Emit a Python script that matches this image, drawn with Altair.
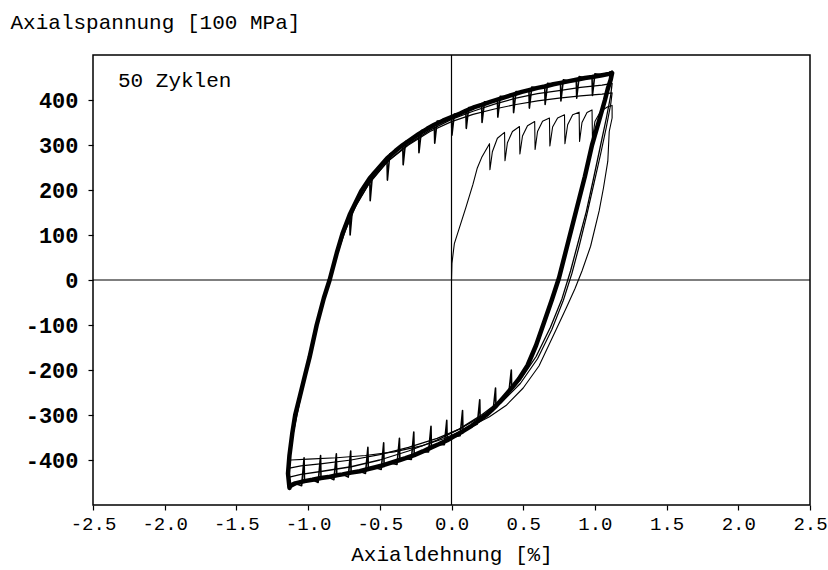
import altair as alt
import pandas as pd

# ---- data (strain %, stress) ----
# stabilised cycle (thick band): rising branch
band_up = [
    (-1.13, -462), (-1.14, -430), (-1.13, -390), (-1.11, -340), (-1.09, -300), (-1.06, -262),
    (-1.02, -210), (-0.99, -172), (-0.94, -100), (-0.89, -40), (-0.85, 0), (-0.80, 60),
    (-0.76, 103), (-0.71, 145), (-0.63, 197), (-0.57, 226), (-0.50, 252), (-0.45, 270),
    (-0.39, 287), (-0.34, 300), (-0.28, 313), (-0.23, 324), (-0.17, 336), (-0.12, 345),
    (-0.06, 354), (0.0, 362), (0.06, 370), (0.10, 376), (0.16, 384), (0.21, 389), (0.27, 396),
    (0.32, 401), (0.38, 407), (0.43, 412), (0.49, 418), (0.54, 422), (0.60, 427), (0.65, 430),
    (0.71, 435), (0.76, 438), (0.82, 442), (0.87, 445), (0.93, 449), (0.98, 451), (1.05, 455),
    (1.10, 458), (1.12, 460),
]
# stabilised cycle (thick band): falling branch
band_down = [
    (1.12, 460), (1.11, 445), (1.09, 425), (1.07, 400), (1.03, 355), (0.98, 300), (0.93, 230),
    (0.87, 155), (0.81, 80), (0.75, 5), (0.70, -44), (0.65, -90), (0.59, -145), (0.53, -190),
    (0.47, -220), (0.42, -240), (0.36, -262), (0.31, -280), (0.25, -298), (0.20, -310),
    (0.14, -324), (0.08, -336), (0.02, -347), (-0.03, -356), (-0.09, -365), (-0.14, -372),
    (-0.20, -381), (-0.26, -389), (-0.32, -396), (-0.36, -400), (-0.42, -406), (-0.47, -411),
    (-0.53, -416), (-0.58, -420), (-0.64, -425), (-0.70, -428), (-0.76, -432), (-0.80, -434),
    (-0.86, -438), (-0.91, -440), (-0.97, -444), (-1.025, -447), (-1.09, -452), (-1.13, -458),
]
# stabilised cycle with relaxation spikes: rising branch
main_up = [
    (-1.13, -462), (-1.14, -430), (-1.13, -390), (-1.11, -340), (-1.09, -300), (-1.06, -262),
    (-1.02, -210), (-0.99, -172), (-0.94, -100), (-0.89, -40), (-0.85, 0), (-0.80, 60), (-0.76, 103),
    (-0.71, 145), (-0.707, 100), (-0.69, 160), (-0.63, 197),
    (-0.57, 226), (-0.567, 176), (-0.55, 238), (-0.50, 252),
    (-0.45, 270), (-0.447, 222), (-0.43, 280), (-0.39, 287),
    (-0.34, 300), (-0.337, 256), (-0.32, 308), (-0.28, 313),
    (-0.23, 324), (-0.227, 283), (-0.21, 332), (-0.17, 336),
    (-0.12, 345), (-0.117, 304), (-0.10, 353), (-0.06, 354),
    (0.00, 362), (0.003, 322), (0.02, 369), (0.06, 370),
    (0.10, 376), (0.103, 337), (0.12, 383), (0.16, 384),
    (0.21, 389), (0.213, 350), (0.23, 396), (0.27, 396),
    (0.32, 401), (0.323, 362), (0.34, 408), (0.38, 407),
    (0.43, 412), (0.433, 372), (0.45, 419), (0.49, 418),
    (0.54, 422), (0.543, 382), (0.56, 429), (0.60, 427),
    (0.65, 430), (0.653, 390), (0.67, 437), (0.71, 435),
    (0.76, 438), (0.763, 398), (0.78, 445), (0.82, 442),
    (0.87, 445), (0.873, 404), (0.89, 452), (0.93, 449),
    (0.98, 451), (0.983, 410), (1.00, 458), (1.05, 456),
    (1.10, 461), (1.12, 464),
]
# stabilised cycle with relaxation spikes: falling branch
main_down = [
    (1.12, 464), (1.11, 445), (1.09, 425), (1.07, 400), (1.03, 355), (0.98, 300), (0.93, 230),
    (0.87, 155), (0.81, 80), (0.75, 5), (0.70, -44), (0.65, -90), (0.59, -145), (0.53, -190),
    (0.47, -220),
    (0.42, -240), (0.417, -200), (0.40, -250), (0.36, -262),
    (0.31, -280), (0.307, -240), (0.29, -290), (0.25, -298),
    (0.20, -310), (0.197, -266), (0.18, -320), (0.14, -326),
    (0.08, -336), (0.077, -290), (0.06, -346), (0.02, -348),
    (-0.03, -356), (-0.033, -312), (-0.05, -366), (-0.09, -366),
    (-0.14, -372), (-0.143, -325), (-0.16, -382), (-0.20, -382),
    (-0.26, -389), (-0.263, -338), (-0.28, -399), (-0.32, -397),
    (-0.36, -400), (-0.363, -352), (-0.38, -410), (-0.42, -407),
    (-0.47, -411), (-0.473, -362), (-0.49, -421), (-0.53, -417),
    (-0.58, -420), (-0.583, -372), (-0.60, -430), (-0.64, -425),
    (-0.70, -428), (-0.703, -380), (-0.72, -438), (-0.76, -432),
    (-0.80, -434), (-0.803, -386), (-0.82, -444), (-0.86, -438),
    (-0.91, -440), (-0.913, -390), (-0.93, -450), (-0.97, -444),
    (-1.025, -447), (-1.028, -395), (-1.045, -457), (-1.09, -452),
    (-1.13, -464),
]
# first loading from zero with relaxation sawtooth
first_load = [
    (0.0, 0), (0.003, 37), (0.02, 81), (0.056, 117), (0.10, 161), (0.15, 213), (0.18, 249),
    (0.21, 272), (0.265, 303),
    (0.268, 245), (0.285, 285), (0.32, 315), (0.37, 328),
    (0.373, 265), (0.39, 305), (0.425, 330), (0.474, 341),
    (0.477, 280), (0.495, 320), (0.53, 343), (0.58, 352),
    (0.583, 290), (0.60, 330), (0.635, 353), (0.683, 360),
    (0.686, 298), (0.705, 340), (0.74, 360), (0.788, 367),
    (0.791, 303), (0.81, 345), (0.845, 367), (0.89, 373),
    (0.893, 308), (0.91, 350), (0.945, 372), (0.98, 378),
    (0.983, 312), (1.00, 352), (1.04, 375), (1.09, 385), (1.12, 388),
]
# first unloading (outer thin line)
first_unload = [
    (1.12, 388), (1.12, 360), (1.10, 330), (1.09, 264), (1.06, 205), (1.03, 154), (0.97, 75),
    (0.91, 20), (0.86, -20), (0.80, -62), (0.73, -110), (0.61, -191), (0.50, -240),
    (0.38, -279), (0.265, -304), (0.15, -323), (0.05, -338), (-0.05, -352), (-0.20, -368),
    (-0.40, -382), (-0.60, -390), (-0.80, -395), (-1.00, -398), (-1.12, -400), (-1.13, -405),
]
# intermediate cycles (lower stress amplitude)
cyc2_up = [
    (-1.13, -405), (-1.11, -350), (-1.07, -290), (-1.03, -225), (-0.98, -160), (-0.92, -80),
    (-0.86, -10), (-0.80, 55), (-0.74, 110), (-0.66, 170), (-0.56, 222), (-0.44, 265),
    (-0.30, 300), (-0.15, 330), (0.0, 352), (0.15, 368), (0.30, 380), (0.45, 390),
    (0.60, 398), (0.75, 404), (0.90, 409), (1.05, 413), (1.12, 416),
]
cyc2_down = [
    (1.12, 416), (1.11, 390), (1.08, 340), (1.04, 280), (0.99, 210), (0.94, 140), (0.89, 75),
    (0.84, 15), (0.78, -45), (0.70, -110), (0.60, -175), (0.48, -230), (0.35, -272),
    (0.20, -305), (0.05, -332), (-0.10, -352), (-0.30, -372), (-0.50, -388), (-0.70, -400),
    (-0.90, -408), (-1.05, -413), (-1.13, -418),
]
cyc3_up = [
    (-1.13, -418), (-1.13, -380), (-1.10, -320), (-1.06, -262), (-1.01, -195), (-0.95, -112),
    (-0.89, -38), (-0.83, 28), (-0.77, 92), (-0.69, 152), (-0.58, 212), (-0.45, 262),
    (-0.30, 302), (-0.15, 333), (0.0, 357), (0.15, 375), (0.30, 391), (0.45, 404),
    (0.60, 414), (0.75, 421), (0.90, 428), (1.05, 433), (1.12, 437),
]
cyc3_down = [
    (1.12, 437), (1.11, 410), (1.08, 360), (1.04, 300), (0.99, 225), (0.94, 152), (0.88, 80),
    (0.83, 20), (0.77, -42), (0.69, -105), (0.59, -170), (0.48, -222), (0.35, -266),
    (0.20, -302), (0.05, -332), (-0.10, -356), (-0.30, -380), (-0.50, -400), (-0.70, -415),
    (-0.90, -425), (-1.05, -432), (-1.13, -438),
]

x_ticks = [-2.5, -2.0, -1.5, -1.0, -0.5, 0.0, 0.5, 1.0, 1.5, 2.0, 2.5]
y_ticks = [-400, -300, -200, -100, 0, 100, 200, 300, 400]

curves = [
    ("band", band_up + band_down, 4.5),
    ("first", first_load + first_unload, 1.1),
    ("c2", cyc2_up + cyc2_down, 1.2),
    ("c3", cyc3_up + cyc3_down, 1.3),
    ("main", main_up + main_down, 1.6),
]
rows = []
for name, pts, w in curves:
    for (x, y) in pts:
        rows.append({"series": name, "order": len(rows), "x": x, "y": y, "w": w})
df = pd.DataFrame(rows)

FONT = "Liberation Mono"
minus_fix = "datum.value < 0 ? '-' + format(abs(datum.value), '{f}') : format(datum.value, '{f}')"

x_enc = alt.X(
    "x:Q",
    scale=alt.Scale(domain=[-2.5, 2.5], nice=False, zero=False),
    axis=alt.Axis(
        values=x_ticks, grid=False, domain=False, tickSize=5, tickWidth=1.2, tickColor="black",
        labelFont=FONT, labelFontSize=19, labelColor="black", labelPadding=4,
        labelExpr=minus_fix.replace("{f}", ".1f"), labelOverlap=False, labelFlush=False,
        title="Axialdehnung [%]", titleFont=FONT, titleFontSize=21, titleFontWeight="normal",
        titleColor="black", titleY=49, titleBaseline="middle",
    ),
)
y_enc = alt.Y(
    "y:Q",
    scale=alt.Scale(domain=[-500, 500], nice=False),
    axis=alt.Axis(
        values=y_ticks, grid=False, domain=False, tickSize=5, tickWidth=1.2, tickColor="black",
        labelFont=FONT, labelFontSize=22, labelFontWeight="bold", labelColor="black",
        labelPadding=10, labelExpr=minus_fix.replace("{f}", "d"), labelOverlap=False,
        title="Axialspannung [100 MPa]", titleFont=FONT, titleFontSize=21,
        titleFontWeight="normal", titleColor="black", titleAngle=0, titleAlign="left",
        titleBaseline="middle", titleX=-83, titleY=-33,
    ),
)

lines = alt.Chart(df).mark_line(color="black", strokeJoin="round", strokeCap="round").encode(
    x=x_enc,
    y=y_enc,
    detail="series:N",
    order="order:Q",
    strokeWidth=alt.StrokeWidth("w:Q", scale=None),
)

vzero = alt.Chart(pd.DataFrame({"x": [0.0]})).mark_rule(color="black", strokeWidth=1.2).encode(x="x:Q")
hzero = alt.Chart(pd.DataFrame({"y": [0.0]})).mark_rule(color="black", strokeWidth=1.2).encode(y="y:Q")

label = alt.Chart(pd.DataFrame({"t": ["50 Zyklen"]})).mark_text(
    font=FONT, fontSize=21, align="left", baseline="middle", color="black"
).encode(text="t:N", x=alt.value(25), y=alt.value(26))

chart = alt.layer(vzero, hzero, lines, label).properties(
    width=717,
    height=450,
    autosize=alt.AutoSizeParams(type="none"),
    padding={"left": 93, "top": 55, "right": 18, "bottom": 65},
    background="white",
).configure_view(stroke="black", strokeWidth=1.5)

chart.save("out.html", embed_options={"renderer": "svg", "actions": False})
